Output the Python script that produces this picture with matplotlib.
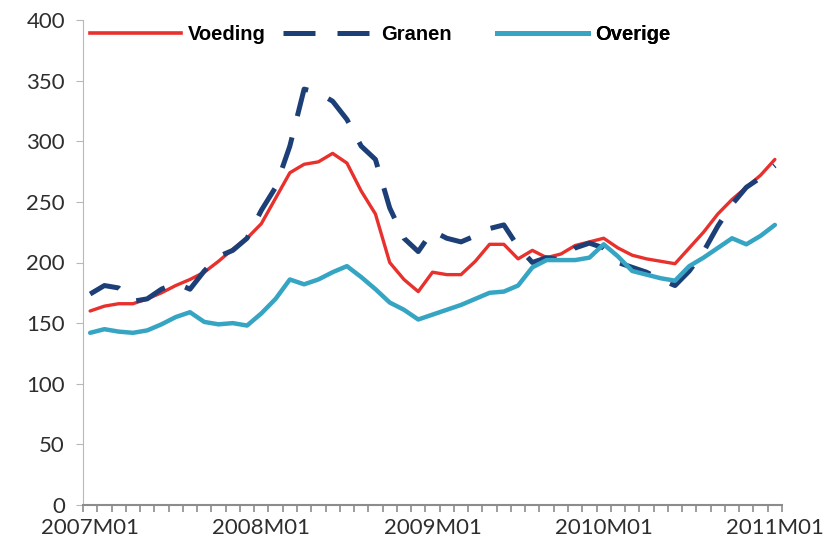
import matplotlib.pyplot as plt
from matplotlib.lines import Line2D
import numpy

months = [f"{2007 + i // 12}M{i % 12 + 1:02d}" for i in range(49)]
label_months = ["2007M01", "2008M01", "2009M01", "2010M01", "2011M01"]

voeding = [160, 164, 166, 166, 170, 175, 181, 186, 192, 201, 211, 220, 232,
           253, 274, 281, 283, 290, 282, 259, 240, 200, 186, 176, 192, 190,
           190, 201, 215, 215, 203, 210, 204, 207, 214, 217, 220, 212, 206,
           203, 201, 199, 212, 225, 240, 252, 262, 272, 285]
granen = [174, 181, 179, 168, 170, 178, 183, 178, 193, 205, 210, 220, 243,
          262, 296, 343, 340, 333, 318, 296, 285, 245, 220, 209, 226, 220,
          217, 222, 228, 231, 213, 200, 204, 202, 212, 216, 212, 200, 196,
          192, 186, 181, 193, 209, 230, 248, 262, 270, 280]
overige = [142, 145, 143, 142, 144, 149, 155, 159, 151, 149, 150, 148, 158,
           170, 186, 182, 186, 192, 197, 188, 178, 167, 161, 153, 157, 161,
           165, 170, 175, 176, 181, 196, 202, 202, 202, 204, 215, 205, 193,
           190, 187, 185, 197, 204, 212, 220, 215, 222, 231]

RED = "#e8302c"
NAVY = "#1c3f78"
TEAL = "#36a5c3"

fig = plt.figure(figsize=(8.28, 5.54), dpi=100)
ax = fig.add_axes([83 / 828, 49 / 554, 699 / 828, 485 / 554])

x = numpy.arange(len(months))
ax.plot(x, voeding, color=RED, lw=2.4, solid_capstyle="round")
ax.plot(x, granen, color=NAVY, lw=3.6, dashes=(6.4, 4.4), dash_capstyle="butt")
ax.plot(x, overige, color=TEAL, lw=3.2, solid_capstyle="round")

ax.set_xlim(-0.5, len(months) - 0.5)
ax.set_ylim(0, 400)
ax.set_yticks(range(0, 401, 50))

ax.set_xticks([months.index(m) for m in label_months])
ax.set_xticklabels(label_months)
ax.set_xticks(numpy.arange(-0.5, len(months), 1.0), minor=True)

for s in ("top", "right"):
    ax.spines[s].set_visible(False)
ax.spines["left"].set_color("#b8b8b8")
ax.spines["bottom"].set_color("#8c8c8c")
ax.spines["bottom"].set_linewidth(1.5)

ax.tick_params(axis="y", length=5, color="#b8b8b8", pad=8,
               labelsize=16, labelcolor="#2e2e2e")
ax.tick_params(axis="x", which="major", length=0, pad=9,
               labelsize=16, labelcolor="#2e2e2e")
ax.tick_params(axis="x", which="minor", length=5, color="#8c8c8c", width=1.2)
for t in ax.get_xticklabels() + ax.get_yticklabels():
    t.set_fontfamily("Lato")

# legend, one entry at a time so the uneven spacing matches
entries = [
    ("Voeding", dict(color=RED, lw=2.6), 7 / 699),
    ("Granen", dict(color=NAVY, lw=3.6, dashes=(6.4, 4.4), dash_capstyle="butt"), 200 / 699),
    ("Overige", dict(color=TEAL, lw=3.6), 414 / 699),
]
for label, style, xpos in entries:
    leg = ax.legend(
        [Line2D([], [], **style)], [label],
        loc="center left", bbox_to_anchor=(xpos, (505 - 35) / 485),
        frameon=False, borderpad=0, borderaxespad=0,
        handlelength=4.5, handletextpad=0.35,
        prop={"family": "Liberation Sans", "weight": "bold", "size": 14.5},
    )
    ax.add_artist(leg)

fig.savefig("out.png", dpi=100)
